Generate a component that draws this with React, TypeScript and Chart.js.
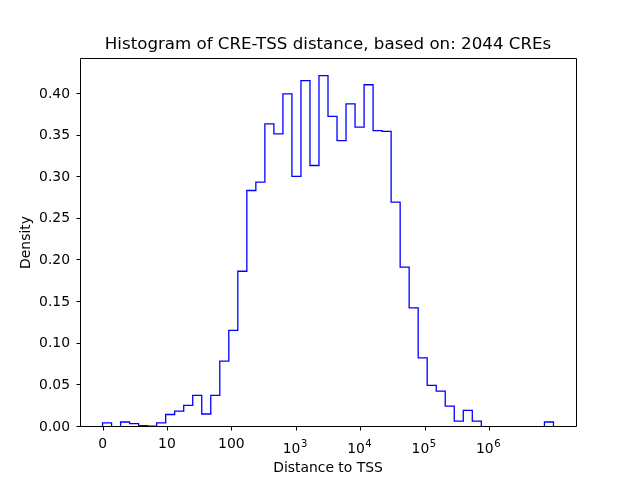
import React, { useEffect, useRef } from "react";
import { Chart, registerables } from "chart.js";

Chart.register(...registerables);

// ---- data ----
const TITLE = "Histogram of CRE-TSS distance, based on: 2044 CREs";
const X_LABEL = "Distance to TSS";
const Y_LABEL = "Density";

// histogram of log10(distance + 1): 50 equal-width bins over [0, 7]
const BIN_RANGE = [0, 7];
const BIN_COUNT = 50;
const DENSITY = [
  0.005, 0, 0.006, 0.004, 0.0015, 0.001, 0.005, 0.015, 0.019, 0.026,
  0.038, 0.0156, 0.038, 0.079, 0.116, 0.187, 0.284, 0.294, 0.364, 0.352,
  0.4, 0.301, 0.416, 0.314, 0.422, 0.373, 0.344, 0.388, 0.36, 0.411,
  0.356, 0.355, 0.27, 0.192, 0.143, 0.083, 0.05, 0.043, 0.025, 0.007,
  0.02, 0.007, 0, 0, 0, 0, 0, 0, 0, 0.006,
];

const X_TICK_VALUES = [0, 1, 2, 3, 4, 5, 6];
const X_TICK_LABELS = ["0", "10", "100", "10^3", "10^4", "10^5", "10^6"];
const Y_TICK_VALUES = [0, 0.05, 0.1, 0.15, 0.2, 0.25, 0.3, 0.35, 0.4];

const FONT = "'DejaVu Sans', 'Liberation Sans', sans-serif";
const TICK_SIZE = 13.9;
const TITLE_SIZE = 16.67;

const frameAndTicks = {
  id: "frameAndTicks",
  afterDraw(chart: any) {
    const { ctx, chartArea: a, scales } = chart;
    const xs = scales.x;
    const ys = scales.y;
    ctx.save();
    ctx.strokeStyle = "#000";
    ctx.lineWidth = 1;
    const L = Math.round(a.left) + 0.5;
    const R = Math.round(a.right) + 0.5;
    const T = Math.round(a.top) + 0.5;
    const B = Math.round(a.bottom) - 0.5;
    ctx.beginPath();
    ctx.moveTo(L, T);
    ctx.lineTo(R, T);
    ctx.lineTo(R, B);
    ctx.lineTo(L, B);
    ctx.closePath();
    X_TICK_VALUES.forEach((v) => {
      const px = Math.round(xs.getPixelForValue(v)) + 0.5;
      ctx.moveTo(px, B);
      ctx.lineTo(px, B + 4);
    });
    Y_TICK_VALUES.forEach((v) => {
      const py = Math.round(ys.getPixelForValue(v)) - 0.5;
      ctx.moveTo(L, py);
      ctx.lineTo(L - 4, py);
    });
    ctx.stroke();

    ctx.fillStyle = "#000";
    ctx.textBaseline = "alphabetic";

    // title, centred over the plot area
    ctx.textAlign = "center";
    ctx.font = `${TITLE_SIZE}px ${FONT}`;
    ctx.fillText(TITLE, (a.left + a.right) / 2, 48.5);

    // x tick labels (with superscript exponents)
    ctx.textAlign = "left";
    X_TICK_VALUES.forEach((v, i) => {
      const lab = X_TICK_LABELS[i];
      const cx = xs.getPixelForValue(v);
      const parts = lab.split("^");
      if (parts.length === 1) {
        ctx.font = `${TICK_SIZE}px ${FONT}`;
        const w = ctx.measureText(lab).width;
        ctx.fillText(lab, cx - w / 2, B + 21);
      } else {
        ctx.font = `${TICK_SIZE}px ${FONT}`;
        const wb = ctx.measureText(parts[0]).width;
        ctx.font = `10px ${FONT}`;
        const we = ctx.measureText(parts[1]).width;
        const x0 = cx - (wb + we) / 2 - 1;
        ctx.font = `${TICK_SIZE}px ${FONT}`;
        ctx.fillText(parts[0], x0, B + 26);
        ctx.font = `10px ${FONT}`;
        ctx.fillText(parts[1], x0 + wb + 0.5, B + 20.5);
      }
    });
    ctx.restore();
  },
};

export default function App() {
  const ref = useRef<HTMLCanvasElement>(null);

  useEffect(() => {
    const canvas = ref.current;
    if (!canvas) return;
    Chart.defaults.font.family = FONT;
    Chart.defaults.color = "#000";

    const span = BIN_RANGE[1] - BIN_RANGE[0];
    const edges = Array.from(
      { length: BIN_COUNT + 1 },
      (_, i) => BIN_RANGE[0] + (span * i) / BIN_COUNT
    );
    const points = [
      { x: edges[0], y: 0 },
      ...DENSITY.map((d, i) => ({ x: edges[i + 1], y: d })),
      { x: edges[BIN_COUNT], y: 0 },
    ];
    const yMax = Math.max(...DENSITY) * 1.05;

    const chart = new Chart(canvas, {
      type: "line",
      data: {
        datasets: [
          {
            data: points,
            stepped: "after",
            borderColor: "#0000ff",
            borderWidth: 1.3,
            pointRadius: 0,
            fill: false,
            tension: 0,
          },
        ],
      },
      options: {
        animation: false,
        responsive: false,
        devicePixelRatio: 1,
        events: [],
        layout: { padding: { left: 0, right: 64, top: 58, bottom: 0 } },
        plugins: {
          legend: { display: false },
          tooltip: { enabled: false },
          title: { display: false },
        },
        scales: {
          x: {
            type: "linear",
            min: BIN_RANGE[0] - 0.05 * span,
            max: BIN_RANGE[1] + 0.05 * span,
            grid: { display: false, drawTicks: false },
            border: { display: false },
            ticks: { display: false },
            afterFit: (s: any) => {
              s.height = 53;
            },
            title: {
              display: true,
              text: X_LABEL,
              color: "#000",
              font: { size: TICK_SIZE },
              padding: { top: 0, bottom: 3.5 },
            },
          },
          y: {
            type: "linear",
            min: 0,
            max: yMax,
            grid: { display: false, drawTicks: false },
            border: { display: false },
            afterBuildTicks: (s: any) => {
              s.ticks = Y_TICK_VALUES.map((v) => ({ value: v }));
            },
            ticks: {
              color: "#000",
              font: { size: TICK_SIZE },
              padding: 10,
              callback: (v: any) => Number(v).toFixed(2),
            },
            afterFit: (s: any) => {
              s.width = 80;
            },
            title: {
              display: true,
              text: Y_LABEL,
              color: "#000",
              font: { size: TICK_SIZE },
              padding: { top: 17.7, bottom: 0 },
            },
          },
        },
      },
      plugins: [frameAndTicks],
    } as any);

    return () => chart.destroy();
  }, []);

  return (
    <div
      style={{
        position: "fixed",
        left: 0,
        top: 0,
        width: 640,
        height: 480,
        background: "#fff",
      }}
    >
      <canvas ref={ref} width={640} height={480} style={{ display: "block" }} />
    </div>
  );
}
